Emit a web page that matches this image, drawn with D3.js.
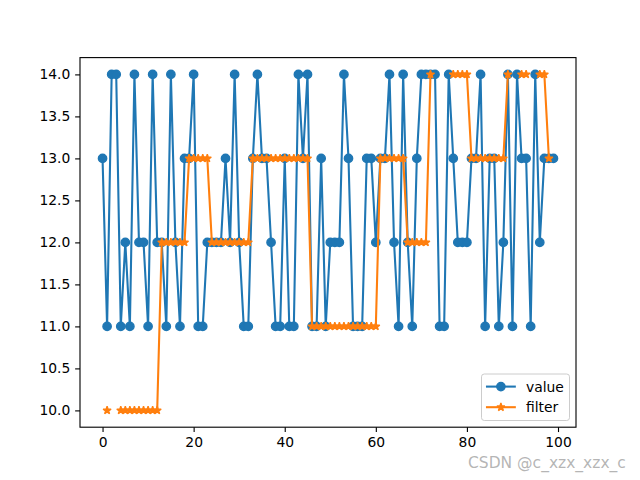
<!DOCTYPE html>
<html>
<head>
<meta charset="utf-8">
<script src="https://cdn.jsdelivr.net/npm/d3@7"></script>
<style>
  html, body { margin: 0; padding: 0; background: #fff; }
  svg { display: block; }
  text { font-family: "DejaVu Sans", sans-serif; }
</style>
</head>
<body>
<svg id="chart" width="640" height="480"></svg>
<script>
// ---- data ----
const valueSeries = [
  13,11,14,14,11,12,11,14,12,12,
  11,14,12,12,11,14,12,11,13,13,
  14,11,11,12,12,12,12,13,12,14,
  12,11,11,13,14,13,13,12,11,11,
  13,11,11,14,13,14,11,11,13,11,
  12,12,12,14,13,11,11,11,13,13,
  12,13,13,14,12,11,14,12,11,13,
  14,14,14,14,11,11,14,13,12,12,
  12,13,13,14,11,13,13,11,12,14,
  11,14,13,13,11,14,12,13,13,13
];
const filterSeries = [
  null,10,null,null,10,10,10,10,10,10,
  10,10,10,12,12,12,12,12,12,13,
  13,13,13,13,12,12,12,12,12,12,
  12,12,12,13,13,13,13,13,13,13,
  13,13,13,13,13,13,11,11,11,11,
  11,11,11,11,11,11,11,11,11,11,
  11,13,13,13,13,13,13,12,12,12,
  12,12,14,null,null,null,null,14,14,14,
  14,13,13,13,13,13,13,13,13,14,
  null,null,14,14,null,null,14,14,13,null
];
const xTicks = [0, 20, 40, 60, 80, 100];
const yTicks = [10.0, 10.5, 11.0, 11.5, 12.0, 12.5, 13.0, 13.5, 14.0];
const seriesNames = ["value", "filter"];
const seriesColors = ["#1f77b4", "#ff7f0e"];
const watermark = "CSDN @c_xzx_xzx_c";

(function () {
// ---- layout ----
const W = 640, H = 480;
const axL = 80, axR = 576, axT = 57.6, axB = 427.2;
const n = valueSeries.length;
const pad = 0.05 * (n - 1);
const x = d3.scaleLinear().domain([-pad, (n - 1) + pad]).range([axL, axR]);
const y = d3.scaleLinear().domain([9.8, 14.2]).range([axB, axT]);

const svg = d3.select("#chart");
svg.append("rect").attr("width", W).attr("height", H).attr("fill", "#fff");

const lw = 1.5 * 100 / 72;       // line width
const mr = 3 * 100 / 72;         // marker radius
const mew = 1 * 100 / 72;        // marker edge width

function starPath(R) {
  const r = R * 0.381966;
  let pts = [];
  for (let k = 0; k < 10; k++) {
    const a = -Math.PI / 2 + k * Math.PI / 5;
    const rr = (k % 2 === 0) ? R : r;
    pts.push([rr * Math.cos(a), rr * Math.sin(a)]);
  }
  return "M" + pts.map(p => p[0].toFixed(3) + "," + p[1].toFixed(3)).join("L") + "Z";
}

const plot = svg.append("g");

const lineGen = d3.line()
  .defined(d => d.v != null)
  .x(d => x(d.i)).y(d => y(d.v));

const valData = valueSeries.map((v, i) => ({i, v}));
const filData = filterSeries.map((v, i) => ({i, v}));

// value series
plot.append("path").datum(valData)
  .attr("d", lineGen).attr("fill", "none")
  .attr("stroke", seriesColors[0]).attr("stroke-width", lw)
  .attr("stroke-linejoin", "round").attr("stroke-linecap", "square");
plot.append("g").selectAll("circle").data(valData).join("circle")
  .attr("cx", d => x(d.i)).attr("cy", d => y(d.v)).attr("r", mr)
  .attr("fill", seriesColors[0]).attr("stroke", seriesColors[0]).attr("stroke-width", mew);

// filter series
plot.append("path").datum(filData)
  .attr("d", lineGen).attr("fill", "none")
  .attr("stroke", seriesColors[1]).attr("stroke-width", lw)
  .attr("stroke-linejoin", "round").attr("stroke-linecap", "square");
const sp = starPath(mr);
plot.append("g").selectAll("path").data(filData.filter(d => d.v != null)).join("path")
  .attr("d", sp)
  .attr("transform", d => `translate(${x(d.i)},${y(d.v)})`)
  .attr("fill", seriesColors[1]).attr("stroke", seriesColors[1]).attr("stroke-width", mew)
  .attr("stroke-linejoin", "bevel");

// axes
const tickLen = 3.5 * 100 / 72;
const fs = 10 * 100 / 72;
const xAxis = d3.axisBottom(x).tickValues(xTicks).tickFormat(d3.format("d"))
  .tickSizeInner(tickLen).tickSizeOuter(0).tickPadding(tickLen);
const yAxis = d3.axisLeft(y).tickValues(yTicks).tickFormat(d3.format(".1f"))
  .tickSizeInner(tickLen).tickSizeOuter(0).tickPadding(tickLen);

const gx = svg.append("g").attr("transform", `translate(0,${axB})`).call(xAxis);
const gy = svg.append("g").attr("transform", `translate(${axL},0)`).call(yAxis);
[gx, gy].forEach(g => {
  g.select(".domain").remove();
  g.selectAll(".tick line").attr("stroke", "#000").attr("stroke-width", 0.8 * 100 / 72);
  g.selectAll(".tick text").attr("font-size", fs).attr("fill", "#000")
    .attr("font-family", "DejaVu Sans, sans-serif");
});

// spines
svg.append("rect").attr("x", axL).attr("y", axT)
  .attr("width", axR - axL).attr("height", axB - axT)
  .attr("fill", "none").attr("stroke", "#000").attr("stroke-width", 0.8 * 100 / 72);

// legend
const lg = svg.append("g");
const lx0 = 481.5, ly0 = 374, lwid = 88, lhei = 46.5;
lg.append("rect").attr("x", lx0).attr("y", ly0).attr("width", lwid).attr("height", lhei)
  .attr("rx", 2.8).attr("ry", 2.8)
  .attr("fill", "#fff").attr("fill-opacity", 0.8)
  .attr("stroke", "#cccccc").attr("stroke-width", 1);
const rowsY = [386.6, 407.2];
seriesNames.forEach((name, k) => {
  const yy = rowsY[k];
  lg.append("line").attr("x1", 487).attr("x2", 514.8).attr("y1", yy).attr("y2", yy)
    .attr("stroke", seriesColors[k]).attr("stroke-width", lw).attr("stroke-linecap", "square");
  if (k === 0) {
    lg.append("circle").attr("cx", 500.9).attr("cy", yy).attr("r", mr)
      .attr("fill", seriesColors[k]).attr("stroke", seriesColors[k]).attr("stroke-width", mew);
  } else {
    lg.append("path").attr("d", sp).attr("transform", `translate(500.9,${yy})`)
      .attr("fill", seriesColors[k]).attr("stroke", seriesColors[k]).attr("stroke-width", mew)
      .attr("stroke-linejoin", "bevel");
  }
  lg.append("text").attr("x", 526).attr("y", yy).attr("dy", "0.36em")
    .attr("font-size", fs).attr("fill", "#000").text(name);
});

// watermark
svg.append("text").attr("x", 468).attr("y", 468)
  .attr("font-family", "Liberation Sans, Arial, sans-serif")
  .attr("font-size", 15.5).attr("fill", "#a8a8a8").attr("fill-opacity", 0.85)
  .text(watermark);
})();
</script>
</body>
</html>
